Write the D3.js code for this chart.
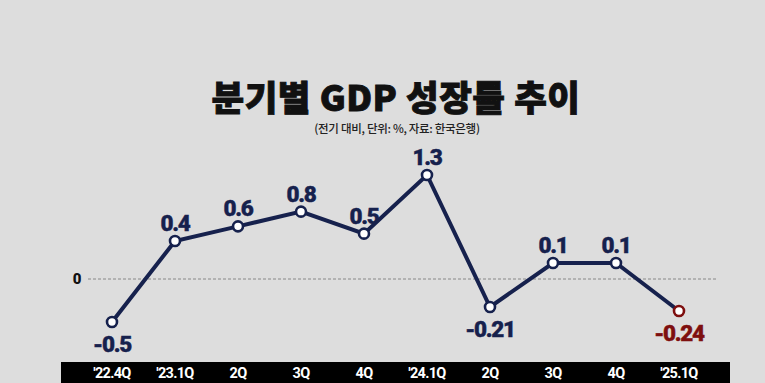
<!DOCTYPE html>
<html><head><meta charset="utf-8">
<script src="https://cdn.jsdelivr.net/npm/d3@7"></script>
<style>html,body{margin:0;padding:0;background:#dddddd;}svg{display:block;}</style>
</head><body>
<svg id="c" width="765" height="383"></svg>
<script>
const categories = ["'22.4Q","'23.1Q","2Q","3Q","4Q","'24.1Q","2Q","3Q","4Q","'25.1Q"];
const values = [-0.5, 0.4, 0.6, 0.8, 0.5, 1.3, -0.21, 0.1, 0.1, -0.24];
const valueLabels = ["-0.5","0.4","0.6","0.8","0.5","1.3","-0.21","0.1","0.1","-0.24"];
const title = "분기별 GDP 성장률 추이";
const subtitle = "(전기 대비, 단위: %, 자료: 한국은행)";

const svg = d3.select("#c");
const W = 765, H = 383;
const navy = "#16214d", red = "#7e0f0f";
const font = "'Noto Sans CJK KR','Noto Sans',sans-serif";
const numFont = "Roboto,'Noto Sans',sans-serif";

svg.append("rect").attr("width", W).attr("height", H).attr("fill", "#dddddd");

const x = d3.scalePoint().domain(d3.range(categories.length)).range([112, 679]);
// the reference's vertical spacing is not strictly linear; a piecewise scale follows it
const y = d3.scaleLinear().domain([-0.5, -0.24, 0, 0.1, 1.3]).range([322, 311, 279, 263, 175]);

// title
svg.append("text").attr("x", 396).attr("y", 111).attr("text-anchor", "middle")
  .attr("font-family", font).attr("font-weight", 900).attr("font-size", 35.5)
  .attr("letter-spacing", "0.5px").attr("fill", "#111")
  .attr("stroke", "#111").attr("stroke-width", 0.9).text(title);
svg.append("text").attr("x", 397).attr("y", 133).attr("text-anchor", "middle")
  .attr("font-family", font).attr("font-weight", 500).attr("font-size", 11.5)
  .attr("letter-spacing", "-0.3px").attr("fill", "#222").text(subtitle);

// zero line
svg.append("line").attr("x1", 88).attr("x2", 717).attr("y1", y(0)).attr("y2", y(0))
  .attr("stroke", "#888").attr("stroke-width", 1).attr("stroke-dasharray", "3,2");
svg.append("text").attr("x", 77).attr("y", y(0) + 5).attr("text-anchor", "middle")
  .attr("font-family", numFont).attr("font-weight", 900).attr("font-size", 15)
  .attr("fill", "#111").text("0");

// bottom band
svg.append("rect").attr("x", 61).attr("y", 362).attr("width", 669).attr("height", 21).attr("fill", "#000");
svg.append("g").selectAll("text").data(categories).join("text")
  .attr("x", (d, i) => x(i)).attr("y", 378).attr("text-anchor", "middle")
  .attr("font-family", numFont).attr("font-weight", 700).attr("font-size", 14.5)
  .attr("letter-spacing", "-0.7px").attr("fill", "#fff").text(d => d);

// line
const line = d3.line().x((d, i) => x(i)).y(d => y(d));
svg.append("path").datum(values).attr("d", line).attr("fill", "none")
  .attr("stroke", navy).attr("stroke-width", 4).attr("stroke-linejoin", "miter");

const last = values.length - 1;
svg.append("g").selectAll("circle").data(values).join("circle")
  .attr("cx", (d, i) => x(i)).attr("cy", d => y(d)).attr("r", 5)
  .attr("fill", "#fff").attr("stroke", (d, i) => i === last ? red : navy).attr("stroke-width", 2.6);

svg.append("g").selectAll("text").data(values).join("text")
  .attr("x", (d, i) => x(i)).attr("y", d => d >= 0 ? y(d) - 10 : y(d) + 30)
  .attr("text-anchor", "middle").attr("font-family", numFont).attr("font-weight", 900)
  .attr("font-size", 22.5).attr("letter-spacing", "-1.3px")
  .attr("fill", (d, i) => i === last ? red : navy)
  .attr("stroke", (d, i) => i === last ? red : navy).attr("stroke-width", 0.4)
  .text((d, i) => valueLabels[i]);
</script>
</body></html>
